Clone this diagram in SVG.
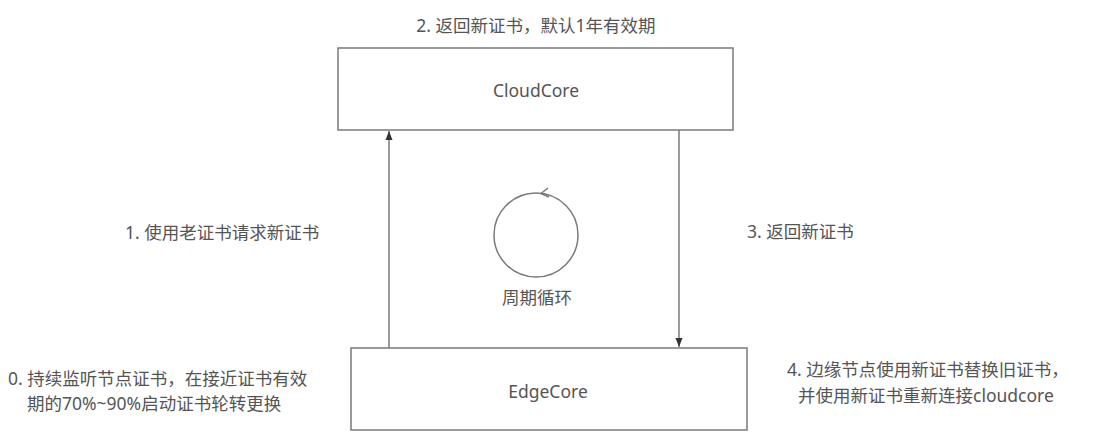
<svg xmlns="http://www.w3.org/2000/svg" width="1094" height="438" viewBox="0 0 1094 438">
<style>
text{font-family:"Noto Sans","Noto Sans CJK SC",sans-serif;font-size:17.5px;fill:#555;dominant-baseline:central}
.box{fill:#fff;stroke:#7a7a7a;stroke-width:1.5}
.ln{fill:none;stroke:#7a7a7a;stroke-width:1.5}
.c{text-anchor:middle}
</style>
<defs>
<marker id="ah" markerUnits="userSpaceOnUse" markerWidth="10" markerHeight="10" viewBox="0 0 10 10" refX="9" refY="5" orient="auto">
<path d="M0,1.5 L9,5 L0,8.5 Z" fill="#333"/>
</marker>
</defs>
<rect width="1094" height="438" fill="#fff"/>
<g id="cloudcore">
<rect class="box" x="338" y="48" width="395" height="82"/>
<text class="c" x="536" y="90">CloudCore</text>
</g>
<g id="edgecore">
<rect class="box" x="351" y="348" width="396" height="82"/>
<text class="c" x="548" y="391">EdgeCore</text>
</g>
<g id="cycle">
<circle class="ln" cx="536" cy="235" r="42"/>
<path class="ln" d="M548,188 L541,193.5 L549,197"/>
<text class="c" x="537" y="297">周期循环</text>
</g>
<g id="connectors">
<line class="ln" x1="389" y1="348" x2="389" y2="131" marker-end="url(#ah)"/>
<line class="ln" x1="679" y1="130" x2="679" y2="347" marker-end="url(#ah)"/>
</g>
<g id="labels">
<text class="c" x="536" y="25">2. 返回新证书，默认1年有效期</text>
<text x="125" y="232">1. 使用老证书请求新证书</text>
<text x="747" y="231">3. 返回新证书</text>
<text x="8" y="378">0. 持续监听节点证书，在接近证书有效</text>
<text x="27" y="403">期的70%~90%启动证书轮转更换</text>
<text x="787" y="369">4. 边缘节点使用新证书替换旧证书，</text>
<text x="798" y="395">并使用新证书重新连接cloudcore</text>
</g>
</svg>
